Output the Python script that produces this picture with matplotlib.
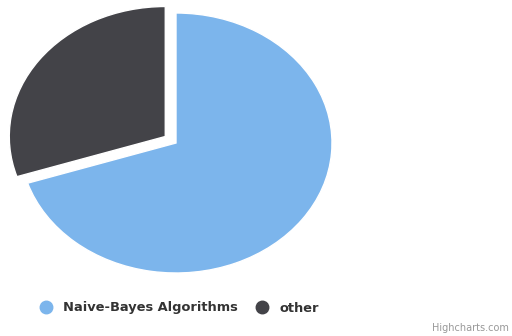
import matplotlib
matplotlib.use("Agg")
import matplotlib.pyplot as plt
from matplotlib.lines import Line2D

# data
labels = ["Naive-Bayes Algorithms", "other"]
values = [70, 30]
colors = ["#7cb5ec", "#434348"]
explode = [0, 0.085]

fig = plt.figure(figsize=(5.12, 3.36), dpi=100)

# axes placed so the pie centre sits near (176, 143) px, radii ~156 x 130 px
W, H = 512, 336
cx, cy, rx, ry = 176, 143, 156, 130
lim = 1.12
ax = fig.add_axes([(cx - rx * lim) / W, (H - cy - ry * lim) / H,
                   2 * rx * lim / W, 2 * ry * lim / H])

ax.pie(values, colors=colors, explode=explode, startangle=90, counterclock=False,
       wedgeprops=dict(edgecolor="white", linewidth=1))
ax.set_aspect("auto")
ax.set_xlim(-lim, lim)
ax.set_ylim(-lim, lim)
ax.axis("off")

handles = [Line2D([], [], marker="o", linestyle="", markersize=9,
                  markerfacecolor=c, markeredgecolor=c) for c in colors]
leg = fig.legend(handles, labels, loc="center left", bbox_to_anchor=(21 / W, 1 - 308 / H),
                 ncol=2, frameon=False, handletextpad=0.3, columnspacing=0.9,
                 prop=dict(size=9.4, weight="bold"))
for t in leg.get_texts():
    t.set_color("#333333")

fig.text(1 - 3 / W, 1 - 328 / H, "Highcharts.com", ha="right", va="center",
         fontsize=7, color="#999999")

fig.savefig("out.png", dpi=100)
